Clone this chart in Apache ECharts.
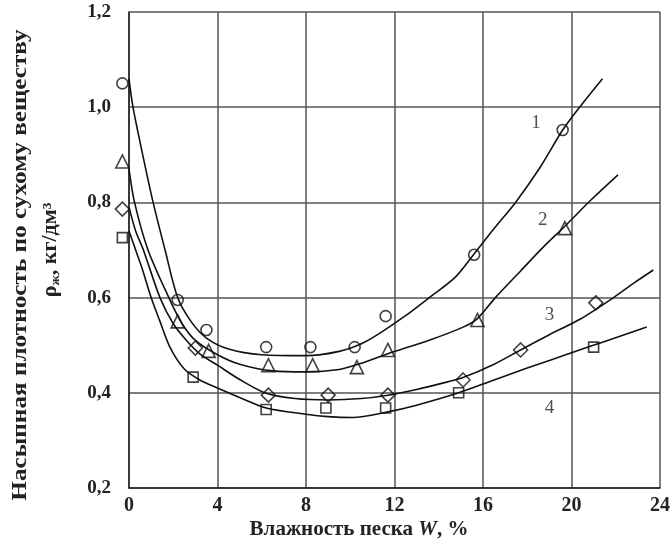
<!DOCTYPE html>
<html>
<head>
<meta charset="utf-8">
<script src="https://cdn.jsdelivr.net/npm/echarts@6/dist/echarts.min.js"></script>
<style>
  html, body { margin: 0; padding: 0; background: #fff; }
  #chart { width: 671px; height: 545px; }
</style>
</head>
<body>
<div id="chart"></div>
<script>
// measured points: [W %, density]
const points1 = [[-0.3, 1.05], [2.2, 0.595], [3.5, 0.532], [6.2, 0.496], [8.2, 0.496], [10.2, 0.496], [11.6, 0.561], [15.6, 0.69], [19.6, 0.952]];
const points2 = [[-0.3, 0.886], [2.2, 0.55], [3.6, 0.488], [6.3, 0.458], [8.3, 0.458], [10.3, 0.454], [11.7, 0.49], [15.75, 0.553], [19.7, 0.746]];
const points3 = [[-0.3, 0.786], [3.0, 0.494], [6.3, 0.395], [9.0, 0.395], [11.7, 0.395], [15.1, 0.427], [17.7, 0.49], [21.1, 0.589]];
const points4 = [[-0.3, 0.726], [2.9, 0.433], [6.2, 0.365], [8.9, 0.368], [11.6, 0.368], [14.9, 0.4], [21.0, 0.496]];

// approximating curves
const curve1 = [[0, 1.06], [0.18, 1.0], [0.62, 0.9], [1.09, 0.8], [1.63, 0.7], [2.2, 0.6], [2.8, 0.55], [3.5, 0.515], [4.5, 0.492], [6, 0.48], [8, 0.478], [9.5, 0.487], [10.5, 0.503], [11.36, 0.526], [12.5, 0.562], [13.6, 0.601], [14.75, 0.643], [15.57, 0.69], [16.5, 0.745], [17.47, 0.8], [18.6, 0.875], [19.6, 0.952], [20.5, 1.008], [21.4, 1.06]];
const curve2 = [[0, 0.87], [0.25, 0.8], [0.86, 0.7], [1.8, 0.6], [2.4, 0.545], [3, 0.51], [4, 0.48], [5, 0.46], [6.5, 0.446], [8, 0.444], [9.5, 0.449], [10.5, 0.462], [11.7, 0.482], [13.6, 0.511], [15.1, 0.538], [15.75, 0.556], [16.56, 0.6], [17.7, 0.656], [18.7, 0.705], [19.7, 0.75], [20.9, 0.806], [22.1, 0.858]];
const curve3 = [[0, 0.79], [0.3, 0.74], [0.65, 0.7], [1.4, 0.6], [2, 0.545], [2.6, 0.51], [3.2, 0.482], [4, 0.458], [5, 0.428], [6.2, 0.399], [7.5, 0.388], [9, 0.385], [10.5, 0.388], [11.7, 0.395], [13, 0.407], [14.4, 0.423], [15.1, 0.432], [16.5, 0.46], [17.7, 0.49], [19, 0.522], [20.4, 0.555], [21.9, 0.6], [22.8, 0.63], [23.7, 0.658]];
const curve4 = [[0, 0.74], [0.3, 0.7], [0.6, 0.66], [1.0, 0.6], [1.4, 0.55], [1.86, 0.495], [2.5, 0.45], [3.2, 0.427], [4, 0.41], [5, 0.39], [6.2, 0.368], [8, 0.355], [9, 0.35], [10.1, 0.348], [11.7, 0.36], [13, 0.374], [14.9, 0.4], [16.5, 0.427], [18, 0.452], [20, 0.484], [21.5, 0.508], [23.4, 0.538]];

const curveLabels = [[18.4, 0.967, '1'], [18.7, 0.763, '2'], [19.0, 0.563, '3'], [19.0, 0.368, '4']];

const xTicks = [0, 4, 8, 12, 16, 20, 24];
const yTicks = [0.2, 0.4, 0.6, 0.8, 1.0, 1.2];

const xTitle = "Влажность песка {i|W}, %";
const yTitle = "Насыпная плотность по сухому веществу";
const yUnit = "ρ{sub|ж}, кг/дм³";

const FONT = "Liberation Serif";
const INK = "#222";
const myChart = echarts.init(document.getElementById("chart"));

function curveSeries(data) {
  return {
    type: "line",
    data: data,
    smooth: 0.3,
    showSymbol: false,
    silent: true,
    lineStyle: { color: "#111", width: 1.6 },
    z: 2
  };
}

function pointSeries(data, symbol, size) {
  return {
    type: "scatter",
    data: data,
    symbol: symbol,
    symbolSize: size,
    clip: false,
    itemStyle: { color: "rgba(255,255,255,0)", borderColor: "#111", borderWidth: 1.6 },
    z: 3
  };
}

const option = {
  backgroundColor: "#fff",
  animation: false,
  grid: { left: 129, right: 11, top: 12, bottom: 57, outerBoundsMode: "none", containLabel: false },
  graphic: [
    {
      type: "text",
      x: 359,
      y: 530,
      style: {
        text: xTitle,
        align: "center",
        verticalAlign: "middle",
        font: "bold 21px " + FONT,
        fill: INK,
        rich: { i: { font: "italic bold 21px " + FONT, fill: INK } }
      }
    },
    {
      type: "text",
      x: 21,
      y: 265,
      rotation: Math.PI / 2,
      scaleX: 1.26,
      style: { text: yTitle, align: "center", verticalAlign: "middle", font: "bold 20px " + FONT, fill: INK }
    },
    {
      type: "text",
      x: 51,
      y: 250,
      rotation: Math.PI / 2,
      scaleX: 1.1,
      style: {
        text: yUnit,
        align: "center",
        verticalAlign: "middle",
        font: "bold 20px " + FONT,
        fill: INK,
        rich: { sub: { font: "bold 13px " + FONT, fill: INK, padding: [9, 0, 0, 0] } }
      }
    }
  ],
  xAxis: {
    type: "value",
    min: xTicks[0],
    max: xTicks[xTicks.length - 1],
    interval: 4,
    axisLine: { show: true, lineStyle: { color: INK, width: 1.5 } },
    axisTick: { show: false },
    axisLabel: { fontFamily: FONT, fontSize: 20, fontWeight: "bold", color: INK, margin: 8 },
    splitLine: { show: true, lineStyle: { color: "#555", width: 1.5 } }
  },
  yAxis: {
    type: "value",
    min: yTicks[0],
    max: yTicks[yTicks.length - 1],
    interval: 0.2,
    axisLine: { show: true, lineStyle: { color: INK, width: 1.5 } },
    axisTick: { show: false },
    axisLabel: {
      fontFamily: FONT, fontSize: 19, fontWeight: "bold", color: INK, margin: 18,
      formatter: v => v.toFixed(1).replace(".", ",")
    },
    splitLine: { show: true, lineStyle: { color: "#555", width: 1.5 } }
  },
  series: [
    curveSeries(curve1),
    curveSeries(curve2),
    curveSeries(curve3),
    curveSeries(curve4),
    pointSeries(points1, "circle", 11),
    pointSeries(points2, "triangle", 13),
    pointSeries(points3, "diamond", 14),
    pointSeries(points4, "rect", 10),
    {
      type: "scatter",
      data: curveLabels,
      symbolSize: 1,
      silent: true,
      itemStyle: { color: "rgba(0,0,0,0)" },
      label: {
        show: true,
        formatter: p => p.data[2],
        position: "inside",
        fontFamily: FONT,
        fontSize: 19,
        color: INK
      },
      z: 4
    }
  ]
};

myChart.setOption(option);
</script>
</body>
</html>
